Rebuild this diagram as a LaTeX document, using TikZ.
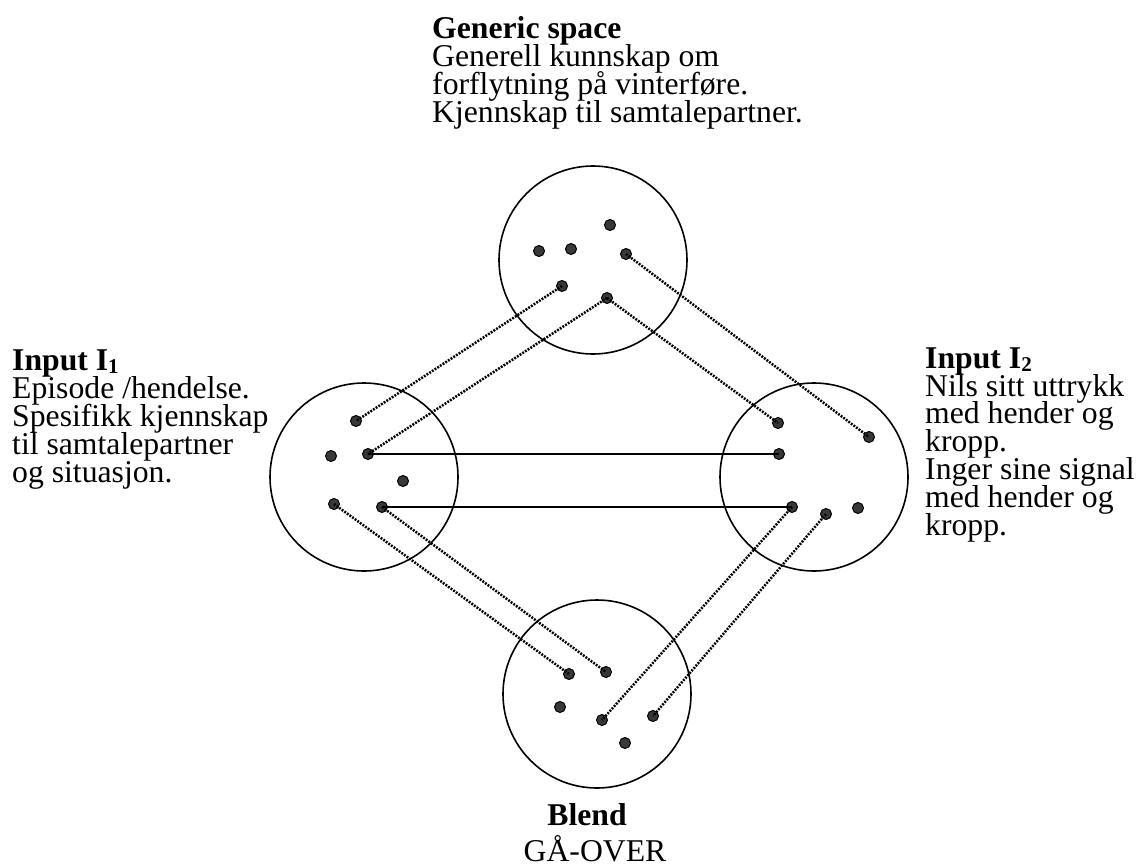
\documentclass[tikz,border=0pt]{standalone}
\usepackage{fontspec}
\setmainfont{Liberation Serif}
\newcommand\labelfont{\fontsize{31.7}{27.8}\selectfont\lineskiplimit=-40pt\relax}
\newcommand\idx[1]{\raisebox{-3pt}{\fontsize{21}{21}\selectfont #1}}
\begin{document}
\begin{tikzpicture}[x=1pt,y=-1pt,
  space/.style={draw, line width=1.6pt, circle, inner sep=0pt, minimum size=188pt},
  dot/.style={circle, draw=black, line width=1pt, fill=black!78, inner sep=0pt, minimum size=11pt},
  map/.style={line width=2.5pt, dash pattern=on 1.9pt off 1.3pt},
  link/.style={line width=2pt},
  lbl/.style={anchor=base west, inner sep=0pt, align=left, font=\labelfont}]
\useasboundingbox (0,0) rectangle (1136,865);

% the four mental spaces
\node[space] (generic) at (593,260) {};
\node[space] (inA) at (364,477) {};
\node[space] (inB) at (814,477) {};
\node[space] (blend) at (597,694) {};

% elements of the generic space
\node[dot] (g1) at (539,251) {};
\node[dot] (g2) at (571,249) {};
\node[dot] (g3) at (610,225) {};
\node[dot] (g4) at (626,254) {};
\node[dot] (g5) at (562,286) {};
\node[dot] (g6) at (607,298) {};

% elements of input 1
\node[dot] (a1) at (356,421) {};
\node[dot] (a2) at (331,456) {};
\node[dot] (a3) at (368,454) {};
\node[dot] (a4) at (403,481) {};
\node[dot] (a5) at (334,504) {};
\node[dot] (a6) at (382,507) {};

% elements of input 2
\node[dot] (b1) at (778,423) {};
\node[dot] (b2) at (779,454) {};
\node[dot] (b3) at (869,437) {};
\node[dot] (b4) at (792,507) {};
\node[dot] (b5) at (826,514) {};
\node[dot] (b6) at (858,508) {};

% elements of the blend
\node[dot] (c1) at (569,674) {};
\node[dot] (c2) at (606,672) {};
\node[dot] (c3) at (560,707) {};
\node[dot] (c4) at (602,720) {};
\node[dot] (c5) at (653,716) {};
\node[dot] (c6) at (625,743) {};

% cross-space mappings
\draw[map] (g5.center) -- (a1.center);
\draw[map] (g6.center) -- (a3.center);
\draw[map] (g6.center) -- (b1.center);
\draw[map] (g4.center) -- (b3.center);
\draw[map] (a5.center) -- (c1.center);
\draw[map] (a6.center) -- (c2.center);
\draw[map] (b4.center) -- (c4.center);
\draw[map] (b5.center) -- (c5.center);
\draw[link] (a3.center) -- (b2.center);
\draw[link] (a6.center) -- (b4.center);

% labels (anchored at the baseline of their last line)
\node[lbl] (tgeneric) at (432,122) {\textbf{Generic space}\\Generell kunnskap om\\forflytning på vinterføre.\\Kjennskap til samtalepartner.};
\node[lbl] (tinA) at (12,482) {\textbf{Input I\idx{1}}\\Episode /hendelse.\\Spesifikk kjennskap\\til samtalepartner\\og situasjon.};
\node[lbl] (tinB) at (925,535) {\textbf{Input I\idx{2}}\\Nils sitt uttrykk\\med hender og\\kropp.\\Inger sine signal\\med hender og\\kropp.};
\node[lbl, anchor=base] (tblend) at (587,825) {\textbf{Blend}};
\node[lbl, anchor=base] (tblend2) at (595,861) {GÅ-OVER};
\end{tikzpicture}
\end{document}
